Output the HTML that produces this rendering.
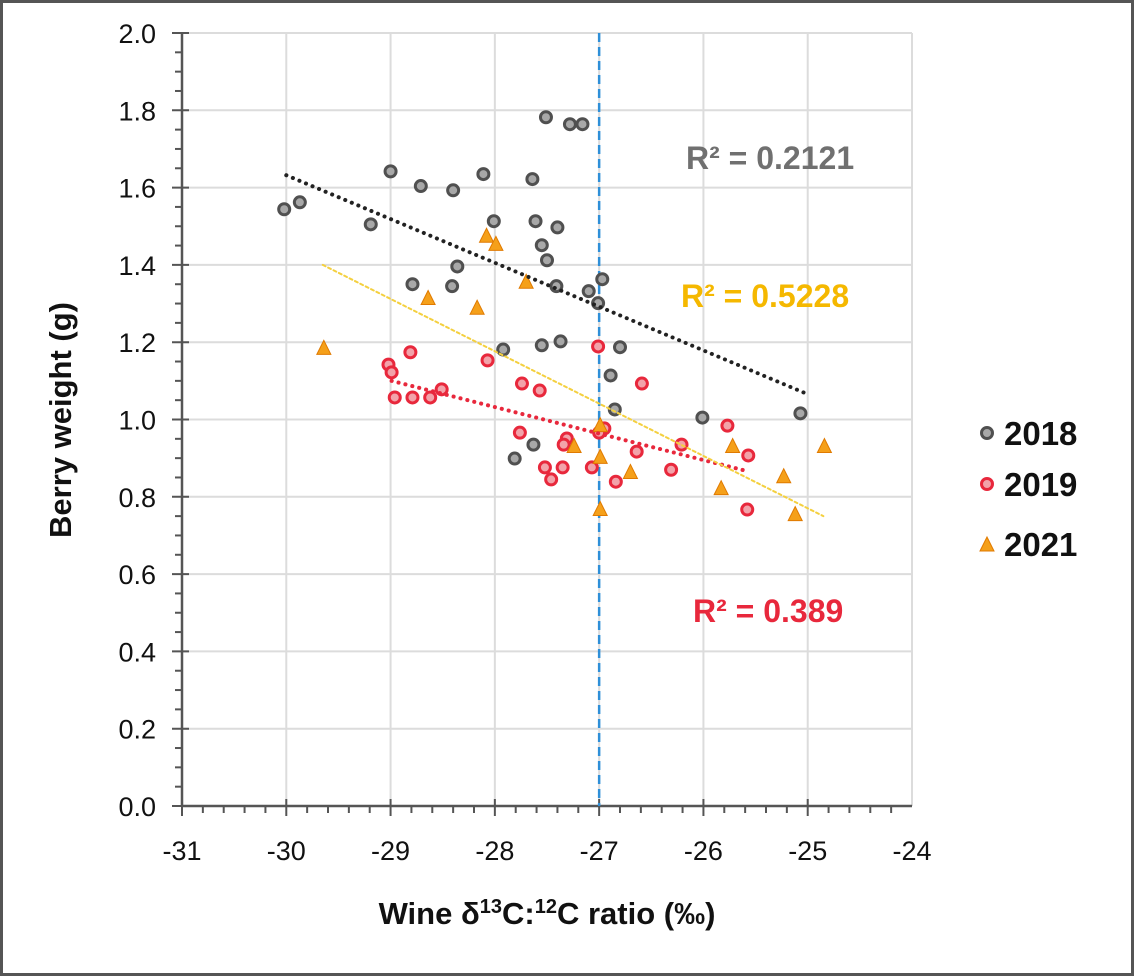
<!DOCTYPE html>
<html><head><meta charset="utf-8"><style>
html,body{margin:0;padding:0;background:#fff}
#wrap{position:relative;width:1134px;height:976px;box-sizing:border-box;border:3px solid #555;overflow:hidden}
svg{position:absolute;left:-3px;top:-3px}
text{font-family:"Liberation Sans",Arial,sans-serif;font-weight:bold}
text.tk{font-weight:normal}
</style></head><body>
<div id="wrap">
<svg id="chart" width="1134" height="976"></svg>
</div>
<script>
const xTicks=[-31,-30,-29,-28,-27,-26,-25,-24];
const yTicks=[0,0.2,0.4,0.6,0.8,1.0,1.2,1.4,1.6,1.8,2.0];
const x2018=[-30.02,-29.87,-29.19,-29.00,-28.71,-28.40,-28.11,-27.64,-27.51,-27.28,-27.16,-28.01,-27.61,-27.40,-27.55,-27.50,-28.36,-28.79,-28.41,-27.41,-27.10,-26.97,-27.01,-27.92,-27.55,-27.37,-26.80,-26.89,-26.85,-26.01,-25.07,-27.63,-27.81];
const y2018=[1.544,1.562,1.505,1.642,1.604,1.593,1.635,1.622,1.782,1.764,1.764,1.513,1.513,1.497,1.451,1.412,1.396,1.350,1.345,1.345,1.332,1.363,1.301,1.181,1.192,1.202,1.187,1.114,1.026,1.005,1.016,0.935,0.899];
const x2019=[-27.01,-28.81,-29.02,-28.99,-28.07,-28.96,-28.79,-28.62,-28.51,-27.74,-27.57,-26.59,-26.95,-27.00,-27.76,-27.31,-27.34,-26.64,-26.21,-25.77,-25.57,-27.52,-27.35,-27.46,-27.07,-26.84,-26.31,-25.58];
const y2019=[1.189,1.174,1.142,1.122,1.153,1.057,1.057,1.057,1.078,1.093,1.075,1.093,0.977,0.966,0.966,0.951,0.935,0.917,0.935,0.984,0.907,0.876,0.876,0.845,0.876,0.839,0.870,0.767];
const x2021=[-28.08,-27.99,-27.70,-28.64,-28.17,-29.64,-27.24,-26.99,-26.99,-26.70,-25.72,-25.83,-25.23,-25.12,-24.84,-26.99];
const y2021=[1.474,1.453,1.355,1.313,1.288,1.184,0.930,0.984,0.902,0.863,0.930,0.821,0.852,0.754,0.930,0.767];
const trend2018X=[-30.0,-25.04], trend2018Y=[1.632,1.07];
const trend2019X=[-28.99,-25.56], trend2019Y=[1.10,0.865];
const trend2021X=[-29.65,-24.85], trend2021Y=[1.40,0.75];
const refLineX=-27;

const NS="http://www.w3.org/2000/svg";
const svg=document.getElementById('chart');
const X0=182,X1=912,Y0=806,Y1=33;
const sx=v=>X0+(v-(-31))/7*(X1-X0);
const sy=v=>Y0-(v/2)*(Y0-Y1);
function mk(tag,attrs,parent){const e=document.createElementNS(NS,tag);for(const k in attrs)e.setAttribute(k,attrs[k]);(parent||svg).appendChild(e);return e;}

yTicks.forEach(v=>{if(v>0){const l=mk('line',{x1:X0,x2:X1,y1:sy(v),y2:sy(v),stroke:'#dcdcdc','stroke-width':2});

}});
xTicks.forEach(v=>{if(v>-31){const l=mk('line',{x1:sx(v),x2:sx(v),y1:Y1,y2:Y0,stroke:'#dcdcdc','stroke-width':2});

}});
const ax=mk('line',{x1:X0,x2:X1,y1:Y0,y2:Y0,stroke:'#555','stroke-width':2.5});


const ay=mk('line',{x1:X0,x2:X0,y1:Y1,y2:Y0,stroke:'#555','stroke-width':2.5});


for(let v=-31;v<=-24.01;v+=0.2){const big=Math.abs(v-Math.round(v))<0.01;
const t=mk('line',{x1:sx(v),x2:sx(v),y1:Y0-(big?7:0),y2:Y0+(big?10:7),stroke:'#555','stroke-width':2});

}
for(let v=0;v<=2.001;v+=0.05){const big=Math.abs(v*5-Math.round(v*5))<0.01;
const t=mk('line',{x1:X0-(big?10:7),x2:X0+(big?7:0),y1:sy(v),y2:sy(v),stroke:'#555','stroke-width':2});

}
xTicks.forEach(v=>{const t=mk('text',{x:sx(v),y:860,'text-anchor':'middle','font-size':27,fill:'#111',class:'tk'});t.textContent=v;

});
yTicks.forEach(v=>{const t=mk('text',{x:156,y:sy(v)+10,'text-anchor':'end','font-size':27,fill:'#111',class:'tk'});t.textContent=v.toFixed(1);

});
const xt=mk('text',{x:547,y:924,'text-anchor':'middle','font-size':31,fill:'#111'});xt.innerHTML='Wine δ<tspan font-size="20" dy="-11">13</tspan><tspan dy="11">C:</tspan><tspan font-size="20" dy="-11">12</tspan><tspan dy="11">C ratio (‰)</tspan>';


const yt=mk('text',{x:0,y:0,'text-anchor':'middle','font-size':31,fill:'#111',transform:'translate(71,420) rotate(-90)'});yt.textContent='Berry weight (g)';



const rl=mk('line',{x1:sx(refLineX),x2:sx(refLineX),y1:Y1,y2:Y0,stroke:'#2e8fd8','stroke-width':2.5,'stroke-dasharray':'9,5'});



function tri(cx,cy,c,name){const p=mk('polygon',{points:`${cx},${cy-8} ${cx-7},${cy+6} ${cx+7},${cy+6}`,fill:c,stroke:'#e07a00','stroke-width':1});

return p;}
function circ(cx,cy,st,fl,name){const c=mk('circle',{cx:cx,cy:cy,r:5.5,fill:fl,stroke:st,'stroke-width':3});

return c;}

x2018.forEach((v,i)=>circ(sx(v),sy(y2018[i]),'#505050','#a8a8a8','point-2018'));
x2019.forEach((v,i)=>circ(sx(v),sy(y2019[i]),'#e8283c','#f2a3aa','point-2019'));
x2021.forEach((v,i)=>tri(sx(v),sy(y2021[i]),'#f5a01a','point-2021'));

function trend(xs,ys,c,name,w,da){const l=mk('line',{x1:sx(xs[0]),y1:sy(ys[0]),x2:sx(xs[1]),y2:sy(ys[1]),stroke:c,'stroke-width':w,'stroke-dasharray':da,'stroke-linecap':'round'});

}
trend(trend2018X,trend2018Y,'#222','trendline-2018',4,'0.1,7');
trend(trend2019X,trend2019Y,'#e8283c','trendline-2019',4,'0.1,7');
trend(trend2021X,trend2021Y,'#f4d03f','trendline-2021',2,'3,3');

function label(x,y,txt,c,name){const t=mk('text',{x:x,y:y,'font-size':32,fill:c});t.textContent=txt;

}
label(686,169,'R² = 0.2121','#707070','r2-2018');
label(681,307,'R² = 0.5228','#f5b800','r2-2021');
label(693,622,'R² = 0.389','#e8283c','r2-2019');

const lg=mk('g',{});


circ(987,433,'#505050','#a8a8a8','legend-marker-2018');
circ(987,484,'#e8283c','#f2a3aa','legend-marker-2019');
tri(987,545,'#f5a01a','legend-marker-2021');
[['2018',445],['2019',496],['2021',556]].forEach(([t,y])=>{const e=mk('text',{x:1004,y:y,'font-size':33,fill:'#111'},lg);e.textContent=t;

});
</script>
</body></html>
